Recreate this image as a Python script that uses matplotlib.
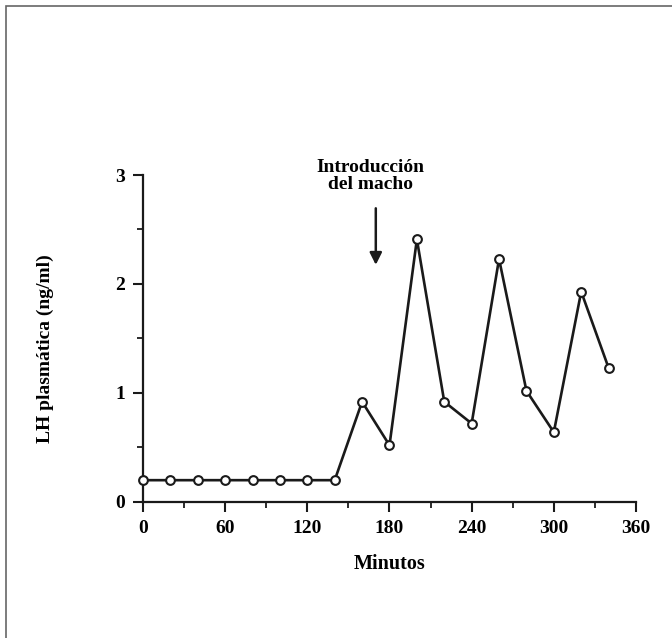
import numpy as np
import matplotlib.pyplot as plt
from matplotlib.patches import Rectangle

plt.rcParams['font.family'] = ['Liberation Serif', 'DejaVu Serif']
plt.rcParams['font.weight'] = 'bold'

minutos = [0, 20, 40, 60, 80, 100, 120, 140, 160, 180, 200, 220, 240, 260, 280, 300, 320, 340]
lh = [0.2, 0.2, 0.2, 0.2, 0.2, 0.2, 0.2, 0.2, 0.92, 0.52, 2.41, 0.92, 0.72, 2.23, 1.02, 0.64, 1.93, 1.23]
xticks = [0, 60, 120, 180, 240, 300, 360]
yticks = [0, 1, 2, 3]

fig = plt.figure(figsize=(6.72, 6.38), dpi=100)
# marco de la figura
fig.patches.append(Rectangle((0.009, -0.05), 1.1, 1.04, transform=fig.transFigure,
                             fill=False, edgecolor='#666666', linewidth=1.2))

ax = fig.add_axes([0.2128, 0.2132, 0.7336, 0.5125])
ax.plot(minutos, lh, color='#1a1a1a', linewidth=1.9, marker='o', markersize=6.3,
        markerfacecolor='white', markeredgecolor='#1a1a1a', markeredgewidth=1.5,
        clip_on=False, zorder=3)

ax.set_xlim(0, 360)
ax.set_ylim(0, 3)
ax.set_xticks(xticks)
ax.set_yticks(yticks)
ax.set_xticks(np.arange(30, 360, 60), minor=True)
ax.set_yticks([0.5, 1.5, 2.5], minor=True)
ax.spines['top'].set_visible(False)
ax.spines['right'].set_visible(False)
for s in ['left', 'bottom']:
    ax.spines[s].set_linewidth(1.6)
    ax.spines[s].set_color('#1a1a1a')
ax.tick_params(which='major', length=7, width=1.5, labelsize=14, pad=6, color='#1a1a1a')
ax.tick_params(which='minor', length=4, width=1.3, color='#1a1a1a')
for lab in ax.get_xticklabels() + ax.get_yticklabels():
    lab.set_fontweight('bold')

ax.set_xlabel('Minutos', fontsize=14.5, fontweight='bold', labelpad=12)
ax.set_ylabel('LH plasmática (ng/ml)', fontsize=14, fontweight='bold')
ax.yaxis.set_label_coords(-0.18, 0.47)

ax.annotate('', xy=(170, 2.15), xytext=(170, 2.72),
            arrowprops=dict(arrowstyle='-|>', color='#1a1a1a', lw=1.8, mutation_scale=18),
            annotation_clip=False)
ax.text(166, 3.15, 'Introducción\ndel macho', ha='center', va='top', fontsize=14,
        fontweight='bold', linespacing=1.0)

fig.savefig('out.png', dpi=100)
